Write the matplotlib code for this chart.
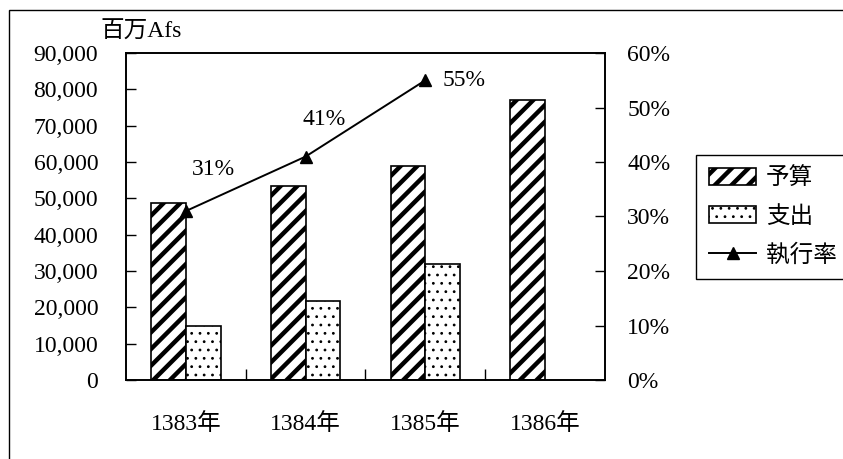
import matplotlib
matplotlib.use("Agg")
import matplotlib.pyplot as plt
from matplotlib.patches import Rectangle
from matplotlib.lines import Line2D
import numpy as np

plt.rcParams['font.family'] = ['Liberation Serif', 'Noto Sans CJK JP']
plt.rcParams['font.size'] = 17

years = ['1383年', '1384年', '1385年', '1386年']
budget = [48600, 53500, 58900, 77000]          # 予算 (百万Afs)
spending = [14900, 21700, 31900, None]         # 支出 (百万Afs)
rate = [31, 41, 55]                            # 執行率 (%)
rate_offsets = [(20, 30), (13, 27), (28, 0)]   # label offsets in points

W, H = 843, 459
fig = plt.figure(figsize=(W / 100, H / 100), dpi=100)

# chart frame
fig.add_artist(Rectangle((9 / W, -0.1), 1.2, 1 - 10 / H + 0.1, transform=fig.transFigure,
                         fill=False, edgecolor='black', linewidth=1.0))

ax = fig.add_axes([126 / W, 1 - 380 / H, (605 - 126) / W, (380 - 53) / H])
ax2 = ax.twinx()

x = np.arange(len(years))
bw = 0.29


def set_hatch_lw(patches, lw):
    for p in patches:
        if hasattr(p, 'set_hatch_linewidth'):
            p.set_hatch_linewidth(lw)


b1 = ax.bar(x - bw / 2, budget, width=bw, facecolor='white', edgecolor='black',
            hatch='//', linewidth=1.2, zorder=2)
set_hatch_lw(b1, 3.2)
sp_x = [xi + bw / 2 for xi, v in zip(x, spending) if v is not None]
sp_v = [v for v in spending if v is not None]
b2 = ax.bar(sp_x, sp_v, width=bw, facecolor='white', edgecolor='black',
            hatch='..', linewidth=1.2, zorder=2)
set_hatch_lw(b2, 0.8)

ax.set_xlim(-0.5, len(years) - 0.5)
ax.set_ylim(0, 90000)
ax.set_yticks(np.arange(0, 90001, 10000))
ax.set_yticklabels([f"{v:,}" for v in range(0, 90001, 10000)])
ax.set_xticks(x)
ax.set_xticklabels(years)
ax.set_xticks(np.arange(0.5, len(years) - 0.5, 1), minor=True)
ax.tick_params(axis='x', which='major', length=0, pad=24)
ax.tick_params(axis='x', which='minor', direction='in', length=8, width=1)
ax.tick_params(axis='y', direction='in', length=7, width=1, pad=20)

ax2.set_ylim(0, 0.6)
ax2.set_yticks(np.arange(0, 0.61, 0.1))
ax2.set_yticklabels([f"{int(round(v * 100))}%" for v in np.arange(0, 0.61, 0.1)])
ax2.tick_params(axis='y', direction='in', length=7, width=1, pad=16)

rx = x[:len(rate)]
ry = [r / 100 for r in rate]
ax2.plot(rx, ry, color='black', linewidth=1.4, marker='^', markersize=9, zorder=3)
for xi, yi, r, off in zip(rx, ry, rate, rate_offsets):
    ax2.annotate(f"{r}%", (xi, yi), xytext=off, textcoords='offset points',
                 ha='center', va='center')

for a in (ax, ax2):
    for s in a.spines.values():
        s.set_linewidth(1.2)
        s.set_color('black')

fig.text(100 / W, 1 - 32 / H, '百万Afs', ha='left', va='center')

handles = [b1, b2, Line2D([], [], color='black', linewidth=1.4, marker='^', markersize=9)]
leg = fig.legend(handles, ['予算', '支出', '執行率'], loc='upper left',
                 bbox_to_anchor=(696 / W, 1 - 155 / H), frameon=True, fancybox=False,
                 edgecolor='black', framealpha=1, borderpad=0.55, labelspacing=0.68,
                 handlelength=2.0, handletextpad=0.4, borderaxespad=0)
leg.get_frame().set_linewidth(1.0)
for h in leg.legend_handles:
    if hasattr(h, 'get_hatch') and h.get_hatch() == '//':
        set_hatch_lw([h], 3.2)
    elif hasattr(h, 'get_hatch') and h.get_hatch() == '..':
        set_hatch_lw([h], 0.8)

fig.savefig('out.png', dpi=100)
